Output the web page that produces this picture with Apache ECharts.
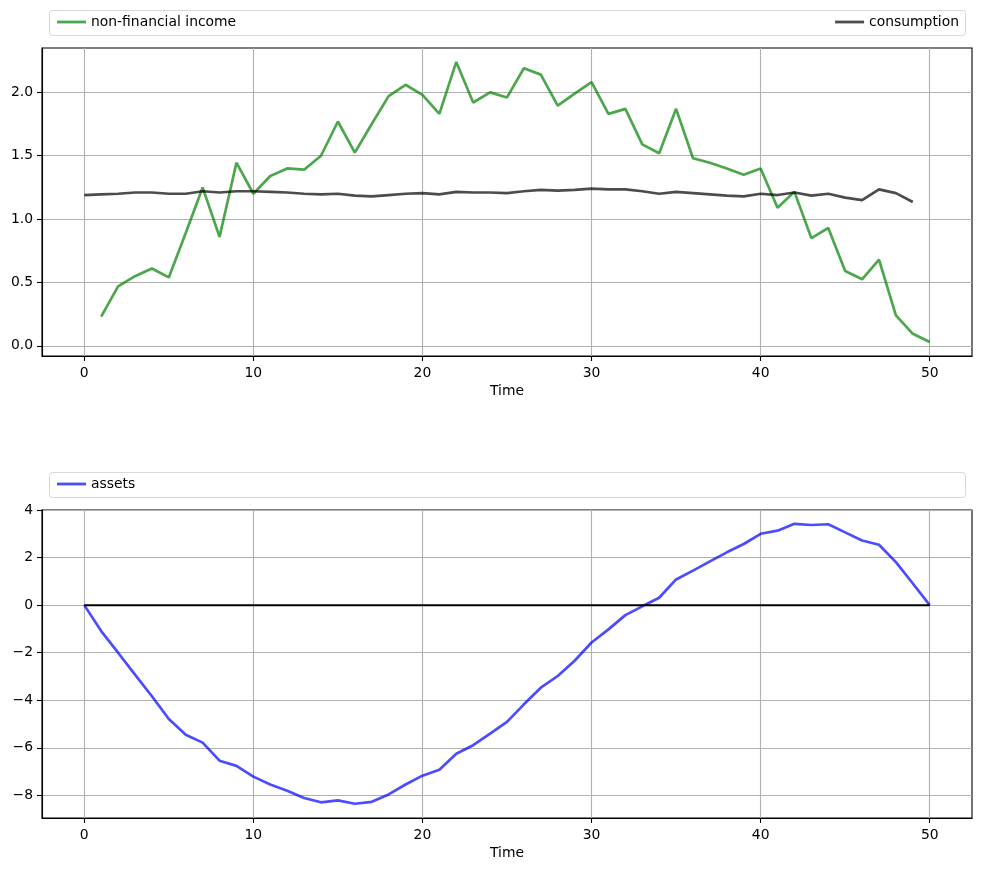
<!DOCTYPE html>
<html><head><meta charset="utf-8">
<script src="https://cdn.jsdelivr.net/npm/echarts@6/dist/echarts.min.js"></script>
<style>html,body{margin:0;padding:0;background:#fff}#c{width:981px;height:871px}</style>
</head><body><div id="c"></div>
<script>
const timeIncome = [1,2,3,4,5,6,7,8,9,10,11,12,13,14,15,16,17,18,19,20,21,22,23,24,25,26,27,28,29,30,31,32,33,34,35,36,37,38,39,40,41,42,43,44,45,46,47,48,49,50];
const income = [0.23,0.47,0.55,0.61,0.54,0.89,1.25,0.86,1.445,1.20,1.34,1.40,1.39,1.50,1.77,1.525,1.75,1.97,2.06,1.98,1.83,2.24,1.92,2.00,1.96,2.19,2.14,1.895,1.99,2.08,1.83,1.87,1.59,1.52,1.87,1.48,1.445,1.40,1.35,1.40,1.09,1.215,0.85,0.93,0.59,0.525,0.68,0.24,0.095,0.03];
const timeCons = [0,1,2,3,4,5,6,7,8,9,10,11,12,13,14,15,16,17,18,19,20,21,22,23,24,25,26,27,28,29,30,31,32,33,34,35,36,37,38,39,40,41,42,43,44,45,46,47,48,49];
const consumption = [1.19,1.195,1.20,1.21,1.21,1.20,1.20,1.22,1.21,1.22,1.22,1.215,1.21,1.20,1.195,1.20,1.185,1.18,1.19,1.20,1.205,1.195,1.215,1.21,1.21,1.205,1.22,1.23,1.225,1.23,1.24,1.235,1.235,1.22,1.20,1.215,1.205,1.195,1.185,1.18,1.20,1.19,1.21,1.185,1.20,1.17,1.15,1.235,1.205,1.135];
const timeAssets = [0,1,2,3,4,5,6,7,8,9,10,11,12,13,14,15,16,17,18,19,20,21,22,23,24,25,26,27,28,29,30,31,32,33,34,35,36,37,38,39,40,41,42,43,44,45,46,47,48,49,50];
const assets = [0,-1.09,-2.0,-2.92,-3.83,-4.79,-5.45,-5.78,-6.54,-6.76,-7.21,-7.54,-7.80,-8.11,-8.29,-8.21,-8.35,-8.27,-7.96,-7.54,-7.17,-6.92,-6.25,-5.89,-5.40,-4.91,-4.17,-3.47,-2.98,-2.34,-1.57,-1.02,-0.42,-0.05,0.31,1.08,1.45,1.84,2.22,2.57,3.00,3.13,3.42,3.37,3.40,3.06,2.72,2.54,1.81,0.91,0];
const zeroLineX = [0,50];
const zeroLineY = [0,0];
const xTicks = [0,10,20,30,40,50];
const yTicksTop = [0,0.5,1.0,1.5,2.0];
const yTicksBottom = [-8,-6,-4,-2,0,2,4];

const pairs = (xs, ys) => xs.map((x, i) => [x, ys[i]]);
const font = 'DejaVu Sans';
const fs = 13.9;

function xAxis(gi) {
  return {
    type: 'value', gridIndex: gi, min: -2.5, max: 52.5,
    name: 'Time', nameLocation: 'middle', nameGap: 28,
    nameTextStyle: {color: '#000', fontFamily: font, fontSize: fs},
    axisLine: {show: true, onZero: false, lineStyle: {color: '#000', width: 1.1}},
    axisTick: {show: true, inside: false, length: 5, lineStyle: {color: '#000', width: 1.1}, customValues: xTicks},
    axisLabel: {color: '#000', fontFamily: font, fontSize: fs, margin: 10, customValues: xTicks, formatter: v => String(v)},
    splitLine: {show: true, lineStyle: {color: '#b0b0b0', width: 1.1}}
  };
}
function yAxis(gi, min, max, ticks, fmt) {
  return {
    type: 'value', gridIndex: gi, min: min, max: max,
    axisLine: {show: true, onZero: false, lineStyle: {color: '#000', width: 1.1}},
    axisTick: {show: true, inside: false, length: 5, lineStyle: {color: '#000', width: 1.1}, customValues: ticks},
    axisLabel: {color: '#000', fontFamily: font, fontSize: fs, margin: 9, customValues: ticks, formatter: fmt},
    splitLine: {show: true, lineStyle: {color: '#b0b0b0', width: 1.1}}
  };
}
const legText = {color: '#000', fontFamily: font, fontSize: fs};
const legBase = {padding: 0, itemWidth: 29, itemHeight: 2.8, icon: 'rect', textStyle: legText};

const chart = echarts.init(document.getElementById('c'), null, {renderer: 'canvas'});
chart.setOption({
  animation: false,
  backgroundColor: '#fff',
  graphic: [
    {type: 'rect', left: 49, top: 10, z: 0, shape: {width: 916, height: 25, r: 3}, style: {fill: '#fff', stroke: '#d6d6d6', lineWidth: 1}},
    {type: 'rect', left: 49, top: 472, z: 0, shape: {width: 916, height: 25, r: 3}, style: {fill: '#fff', stroke: '#d6d6d6', lineWidth: 1}}
  ],
  grid: [
    {left: 42, top: 48, width: 930, height: 308, show: true, borderColor: '#000', borderWidth: 1.1, backgroundColor: 'transparent'},
    {left: 42, top: 510, width: 930, height: 308, show: true, borderColor: '#000', borderWidth: 1.1, backgroundColor: 'transparent'}
  ],
  legend: [
    Object.assign({data: ['non-financial income'], left: 57, top: 15}, legBase),
    Object.assign({data: ['consumption'], right: 22, top: 15}, legBase),
    Object.assign({data: ['assets'], left: 57, top: 477}, legBase)
  ],
  xAxis: [xAxis(0), xAxis(1)],
  yAxis: [
    yAxis(0, -0.08, 2.35, yTicksTop, v => v.toFixed(1)),
    yAxis(1, -8.95, 4.0, yTicksBottom, v => (v < 0 ? '\u2212' + Math.abs(v) : String(v)))
  ],
  series: [
    {name: 'non-financial income', type: 'line', xAxisIndex: 0, yAxisIndex: 0, data: pairs(timeIncome, income), symbol: 'none', lineStyle: {color: 'rgba(0,128,0,0.7)', width: 2.7}, itemStyle: {color: 'rgba(0,128,0,0.7)'}, z: 3},
    {name: 'consumption', type: 'line', xAxisIndex: 0, yAxisIndex: 0, data: pairs(timeCons, consumption), symbol: 'none', lineStyle: {color: 'rgba(0,0,0,0.7)', width: 2.7}, itemStyle: {color: 'rgba(0,0,0,0.7)'}, z: 4},
    {name: 'assets', type: 'line', xAxisIndex: 1, yAxisIndex: 1, data: pairs(timeAssets, assets), symbol: 'none', lineStyle: {color: 'rgba(0,0,255,0.7)', width: 2.7}, itemStyle: {color: 'rgba(0,0,255,0.7)'}, z: 3},
    {name: 'zero', type: 'line', xAxisIndex: 1, yAxisIndex: 1, data: pairs(zeroLineX, zeroLineY), symbol: 'none', lineStyle: {color: '#000', width: 2}, z: 4, silent: true}
  ]
});
</script></body></html>
